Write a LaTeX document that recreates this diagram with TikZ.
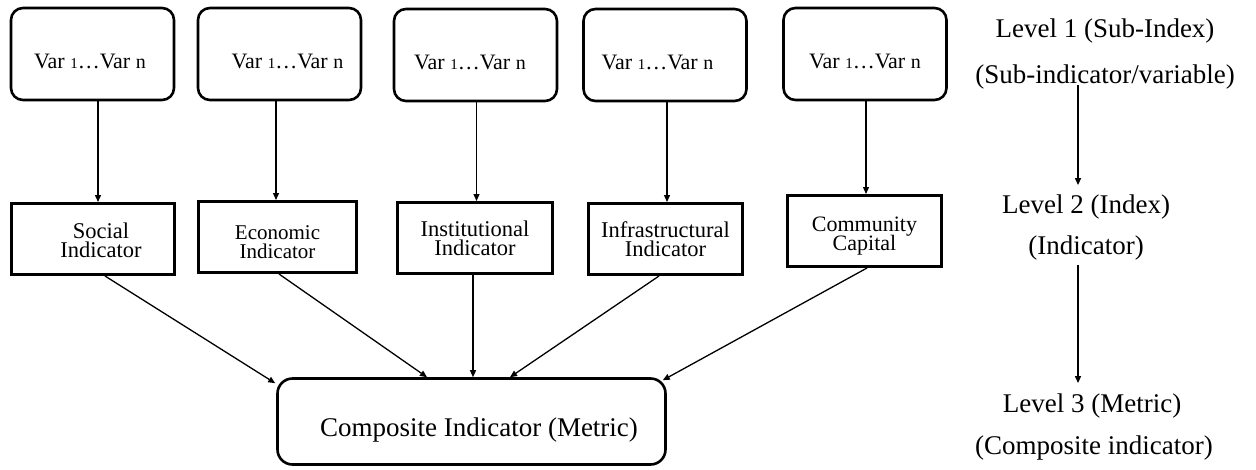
\documentclass[tikz,border=0pt]{standalone}
\usepackage{fontspec}
\setmainfont{Liberation Serif}
\usetikzlibrary{arrows.meta}
\setlength{\lineskiplimit}{-30pt}
% "Var 1...Var n" with the small index digit
\newcommand\varrange{Var {\fontsize{15}{15}\selectfont 1}…Var {\fontsize{20}{20}\selectfont n}}
% invisible strut that lowers a two-line label inside its box
\newcommand\droplabel[1]{\rule{0pt}{#1}}
\tikzset{
  varbox/.style={draw, line width=2.6pt, rounded corners=12pt,
    minimum width=163pt, minimum height=92pt, inner sep=0pt,
    font=\fontsize{22}{26}\selectfont, text height=28pt, text depth=0pt},
  indbox/.style={draw, line width=3pt, minimum width=155pt, minimum height=71pt,
    inner sep=0pt, align=center, font=\fontsize{22.5}{19}\selectfont},
  compbox/.style={draw, line width=2.6pt, rounded corners=15pt,
    minimum width=388pt, minimum height=86pt, inner sep=0pt,
    font=\fontsize{27}{30}\selectfont, text height=29pt, text depth=0pt},
  lvl/.style={inner sep=0pt, anchor=base, font=\fontsize{27}{30}\selectfont},
  arr/.style={-{Triangle[length=7pt,width=6pt]}, line width=1.3pt},
}
\begin{document}
\begin{tikzpicture}[x=1pt,y=-1pt]
\useasboundingbox (0,0) rectangle (1256,469);

% level 1: variable groups
\node[varbox] (v1) at (92.5,54) {\hspace*{-5pt}\varrange};
\node[varbox] (v2) at (279.5,54) {\hspace*{16pt}\varrange};
\node[varbox] (v3) at (475.5,55) {\hspace*{-11pt}\varrange};
\node[varbox] (v4) at (665,55) {\hspace*{-15pt}\varrange};
\node[varbox] (v5) at (865,54) {\varrange};

% level 2: indicators
\node[indbox, minimum width=163pt] (s1) at (93,239) {\droplabel{19pt}\hspace*{16pt}Social\\\hspace*{16pt}Indicator};
\node[indbox, minimum width=158pt, font=\fontsize{21}{18.5}\selectfont] (s2) at (277.5,237) {\droplabel{24pt}Economic\\Indicator};
\node[indbox] (s3) at (475,238) {Institutional\\Indicator};
\node[indbox, minimum width=154pt] (s4) at (665.5,239) {Infrastructural\\Indicator};
\node[indbox, minimum width=154pt, font=\fontsize{22}{19}\selectfont] (s5) at (864.5,231) {\droplabel{24pt}Community\\Capital};

% level 3: composite
\node[compbox] (c) at (471.5,421.5) {\hspace*{15pt}Composite Indicator (Metric)};

% level captions
\node[lvl] (l1a) at (1105,37) {Level 1 (Sub-Index)};
\node[lvl] (l1b) at (1105,83) {(Sub-indicator/variable)};
\node[lvl] (l2a) at (1086,213) {Level 2 (Index)};
\node[lvl] (l2b) at (1086,254) {(Indicator)};
\node[lvl] (l3a) at (1092,412) {Level 3 (Metric)};
\node[lvl] (l3b) at (1094,454) {(Composite indicator)};

% variables to indicators
\draw[arr] ([xshift=5.5pt]v1.south) -- ([xshift=5.5pt]v1.south |- s1.north);
\draw[arr] ([xshift=-3.5pt]v2.south) -- ([xshift=-3.5pt]v2.south |- s2.north);
\draw[arr] ([xshift=1pt]v3.south) -- ([xshift=1pt]v3.south |- s3.north);
\draw[arr] ([xshift=2pt]v4.south) -- ([xshift=2pt]v4.south |- s4.north);
\draw[arr] ([xshift=1pt]v5.south) -- ([xshift=1pt]v5.south |- s5.north);

% indicators to composite
\draw[arr] ([xshift=12pt]s1.south) -- ([xshift=-1pt,yshift=-6pt]c.north west);
\draw[arr] ([xshift=1.5pt]s2.south) -- ([xshift=-44.5pt]c.north);
\draw[arr] ([xshift=-2pt]s3.south) -- ([xshift=1.5pt]c.north);
\draw[arr] ([xshift=-6.5pt]s4.south) -- ([xshift=38.5pt]c.north);
\draw[arr] ([xshift=2.5pt]s5.south) -- ([xshift=-4pt,yshift=-3pt]c.north east);

% level progression
\draw[arr, shorten <=-4pt, shorten >=9pt] ([xshift=-27pt]l1b.south) -- ([xshift=-27pt]l1b.south |- l2a.north);
\draw[arr, shorten <=5pt, shorten >=10pt] ([xshift=-8pt]l2b.south) -- ([xshift=-8pt]l2b.south |- l3a.north);
\end{tikzpicture}
\end{document}
